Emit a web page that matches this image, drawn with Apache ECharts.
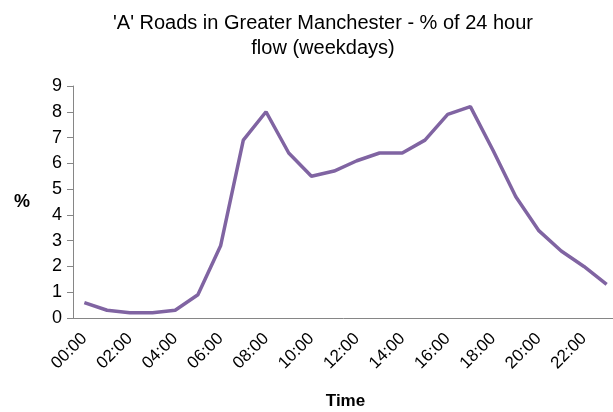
<!DOCTYPE html>
<html>
<head>
<meta charset="utf-8">
<script src="https://cdn.jsdelivr.net/npm/echarts@6/dist/echarts.min.js"></script>
<style>
  html, body { margin: 0; padding: 0; background: #fff; }
  #chart { width: 613px; height: 412px; }
</style>
</head>
<body>
<div id="chart"></div>
<script>
// hours of the day
const hours = ['00:00', '01:00', '02:00', '03:00', '04:00', '05:00', '06:00', '07:00',
  '08:00', '09:00', '10:00', '11:00', '12:00', '13:00', '14:00', '15:00',
  '16:00', '17:00', '18:00', '19:00', '20:00', '21:00', '22:00', '23:00']
// % of 24 hour flow
const flow = [0.6, 0.3, 0.2, 0.2, 0.3, 0.9, 2.8, 6.9, 8.0, 6.4, 5.5, 5.7,
  6.1, 6.4, 6.4, 6.9, 7.9, 8.2, 6.5, 4.7, 3.4, 2.6, 2.0, 1.3]

const myChart = echarts.init(document.getElementById('chart'))
const axisColor = '#868686'

const option = {
  animation: false,
  title: {
    text: "'A' Roads in Greater Manchester - % of 24 hour\nflow (weekdays)",
    left: 318,
    top: 6,
    textAlign: 'center',
    textStyle: {
      fontFamily: 'Liberation Sans',
      fontSize: 20,
      fontWeight: 'normal',
      color: '#000',
      lineHeight: 25
    }
  },
  grid: {
    left: 73,
    top: 86,
    bottom: 94,
    width: 545,
    outerBoundsMode: 'none'
  },
  xAxis: {
    type: 'category',
    data: hours,
    name: 'Time',
    nameLocation: 'middle',
    nameGap: 75,
    nameTextStyle: {
      fontFamily: 'Liberation Sans',
      fontSize: 17,
      fontWeight: 'bold',
      color: '#000'
    },
    axisLine: { lineStyle: { color: axisColor } },
    axisTick: { length: 6, lineStyle: { color: axisColor } },
    axisLabel: {
      interval: 1,
      rotate: 45,
      margin: 18,
      fontFamily: 'Liberation Sans',
      fontSize: 17,
      color: '#000'
    },
    splitLine: { show: false }
  },
  yAxis: {
    type: 'value',
    min: 0,
    max: 9,
    interval: 1,
    name: '%',
    nameLocation: 'middle',
    nameRotate: 0,
    nameGap: 43,
    nameTextStyle: {
      fontFamily: 'Liberation Sans',
      fontSize: 18,
      fontWeight: 'bold',
      color: '#000'
    },
    axisLine: { show: true, lineStyle: { color: axisColor } },
    axisTick: { show: true, length: 6, lineStyle: { color: axisColor } },
    axisLabel: {
      margin: 11,
      fontFamily: 'Liberation Sans',
      fontSize: 18,
      color: '#000'
    },
    splitLine: { show: false }
  },
  series: [
    {
      type: 'line',
      data: flow,
      showSymbol: false,
      lineStyle: { color: '#8064A2', width: 3.5 },
      itemStyle: { color: '#8064A2' }
    }
  ]
}
myChart.setOption(option)
</script>
</body>
</html>
